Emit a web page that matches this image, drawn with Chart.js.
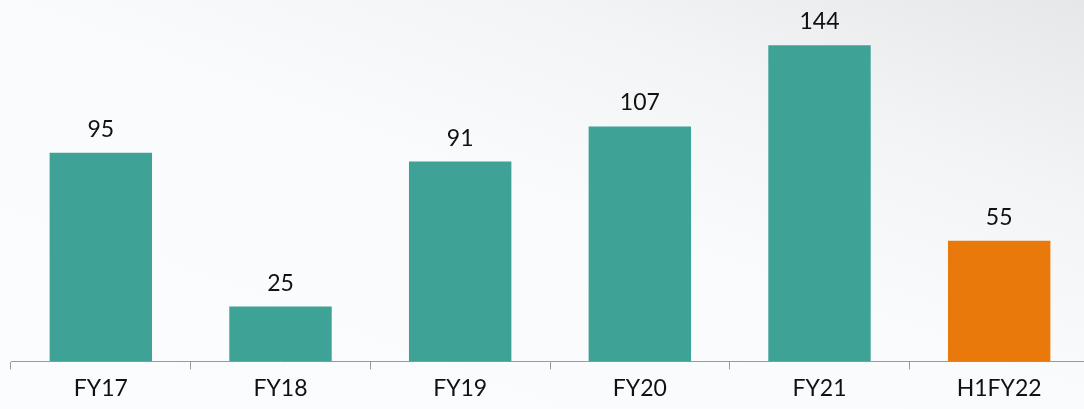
<!DOCTYPE html>
<html>
<head>
<meta charset="utf-8">
<script src="https://cdn.jsdelivr.net/npm/chart.js@4"></script>
<style>
  html, body { margin: 0; padding: 0; overflow: hidden; }
  body {
    width: 1084px; height: 409px;
    background: linear-gradient(200deg, #e6e7e9 0%, #f3f4f5 25%, #fafbfc 50%, #fbfcfd 100%);
  }
  #wrap { position: relative; width: 1100px; height: 409px; }
</style>
</head>
<body>
<div id="wrap"><canvas id="chart"></canvas></div>
<script>
const categories = ['FY17', 'FY18', 'FY19', 'FY20', 'FY21', 'H1FY22'];
const values = [95, 25, 91, 107, 144, 55];
const barColors = ['#3ea297', '#3ea297', '#3ea297', '#3ea297', '#3ea297', '#ea790b'];

const FONT = 'Lato, "Open Sans", sans-serif';

// draws the number above each bar
const valueLabels = {
    id: 'valueLabels',
    afterDatasetsDraw(chart) {
        const ctx = chart.ctx;
        const meta = chart.getDatasetMeta(0);
        ctx.save();
        ctx.font = '23px ' + FONT;
        ctx.fillStyle = '#111111';
        ctx.textAlign = 'center';
        ctx.textBaseline = 'alphabetic';
        meta.data.forEach((bar, i) => {
            ctx.fillText(String(values[i]), bar.x, bar.y - 16);
        });
        ctx.restore();
    }
};

new Chart(document.getElementById('chart'), {
    type: 'bar',
    data: {
        labels: categories,
        datasets: [{
            data: values,
            backgroundColor: barColors,
            borderWidth: 0,
            barPercentage: 0.57,
            categoryPercentage: 1.0
        }]
    },
    options: {
        responsive: true,
        maintainAspectRatio: false,
        animation: false,
        layout: { padding: { left: 11, right: 11, top: 0, bottom: 2 } },
        plugins: { legend: { display: false }, tooltip: { enabled: false } },
        scales: {
            x: {
                grid: { display: true, drawOnChartArea: false, tickLength: 8, color: '#9a9a9a' },
                border: { display: true, color: '#9a9a9a', width: 1 },
                ticks: { color: '#111111', padding: 5, font: { family: FONT, size: 23, lineHeight: 1.2 } }
            },
            y: {
                display: false,
                min: 0,
                max: 164.6
            }
        }
    },
    plugins: [valueLabels]
});
</script>
</body>
</html>
